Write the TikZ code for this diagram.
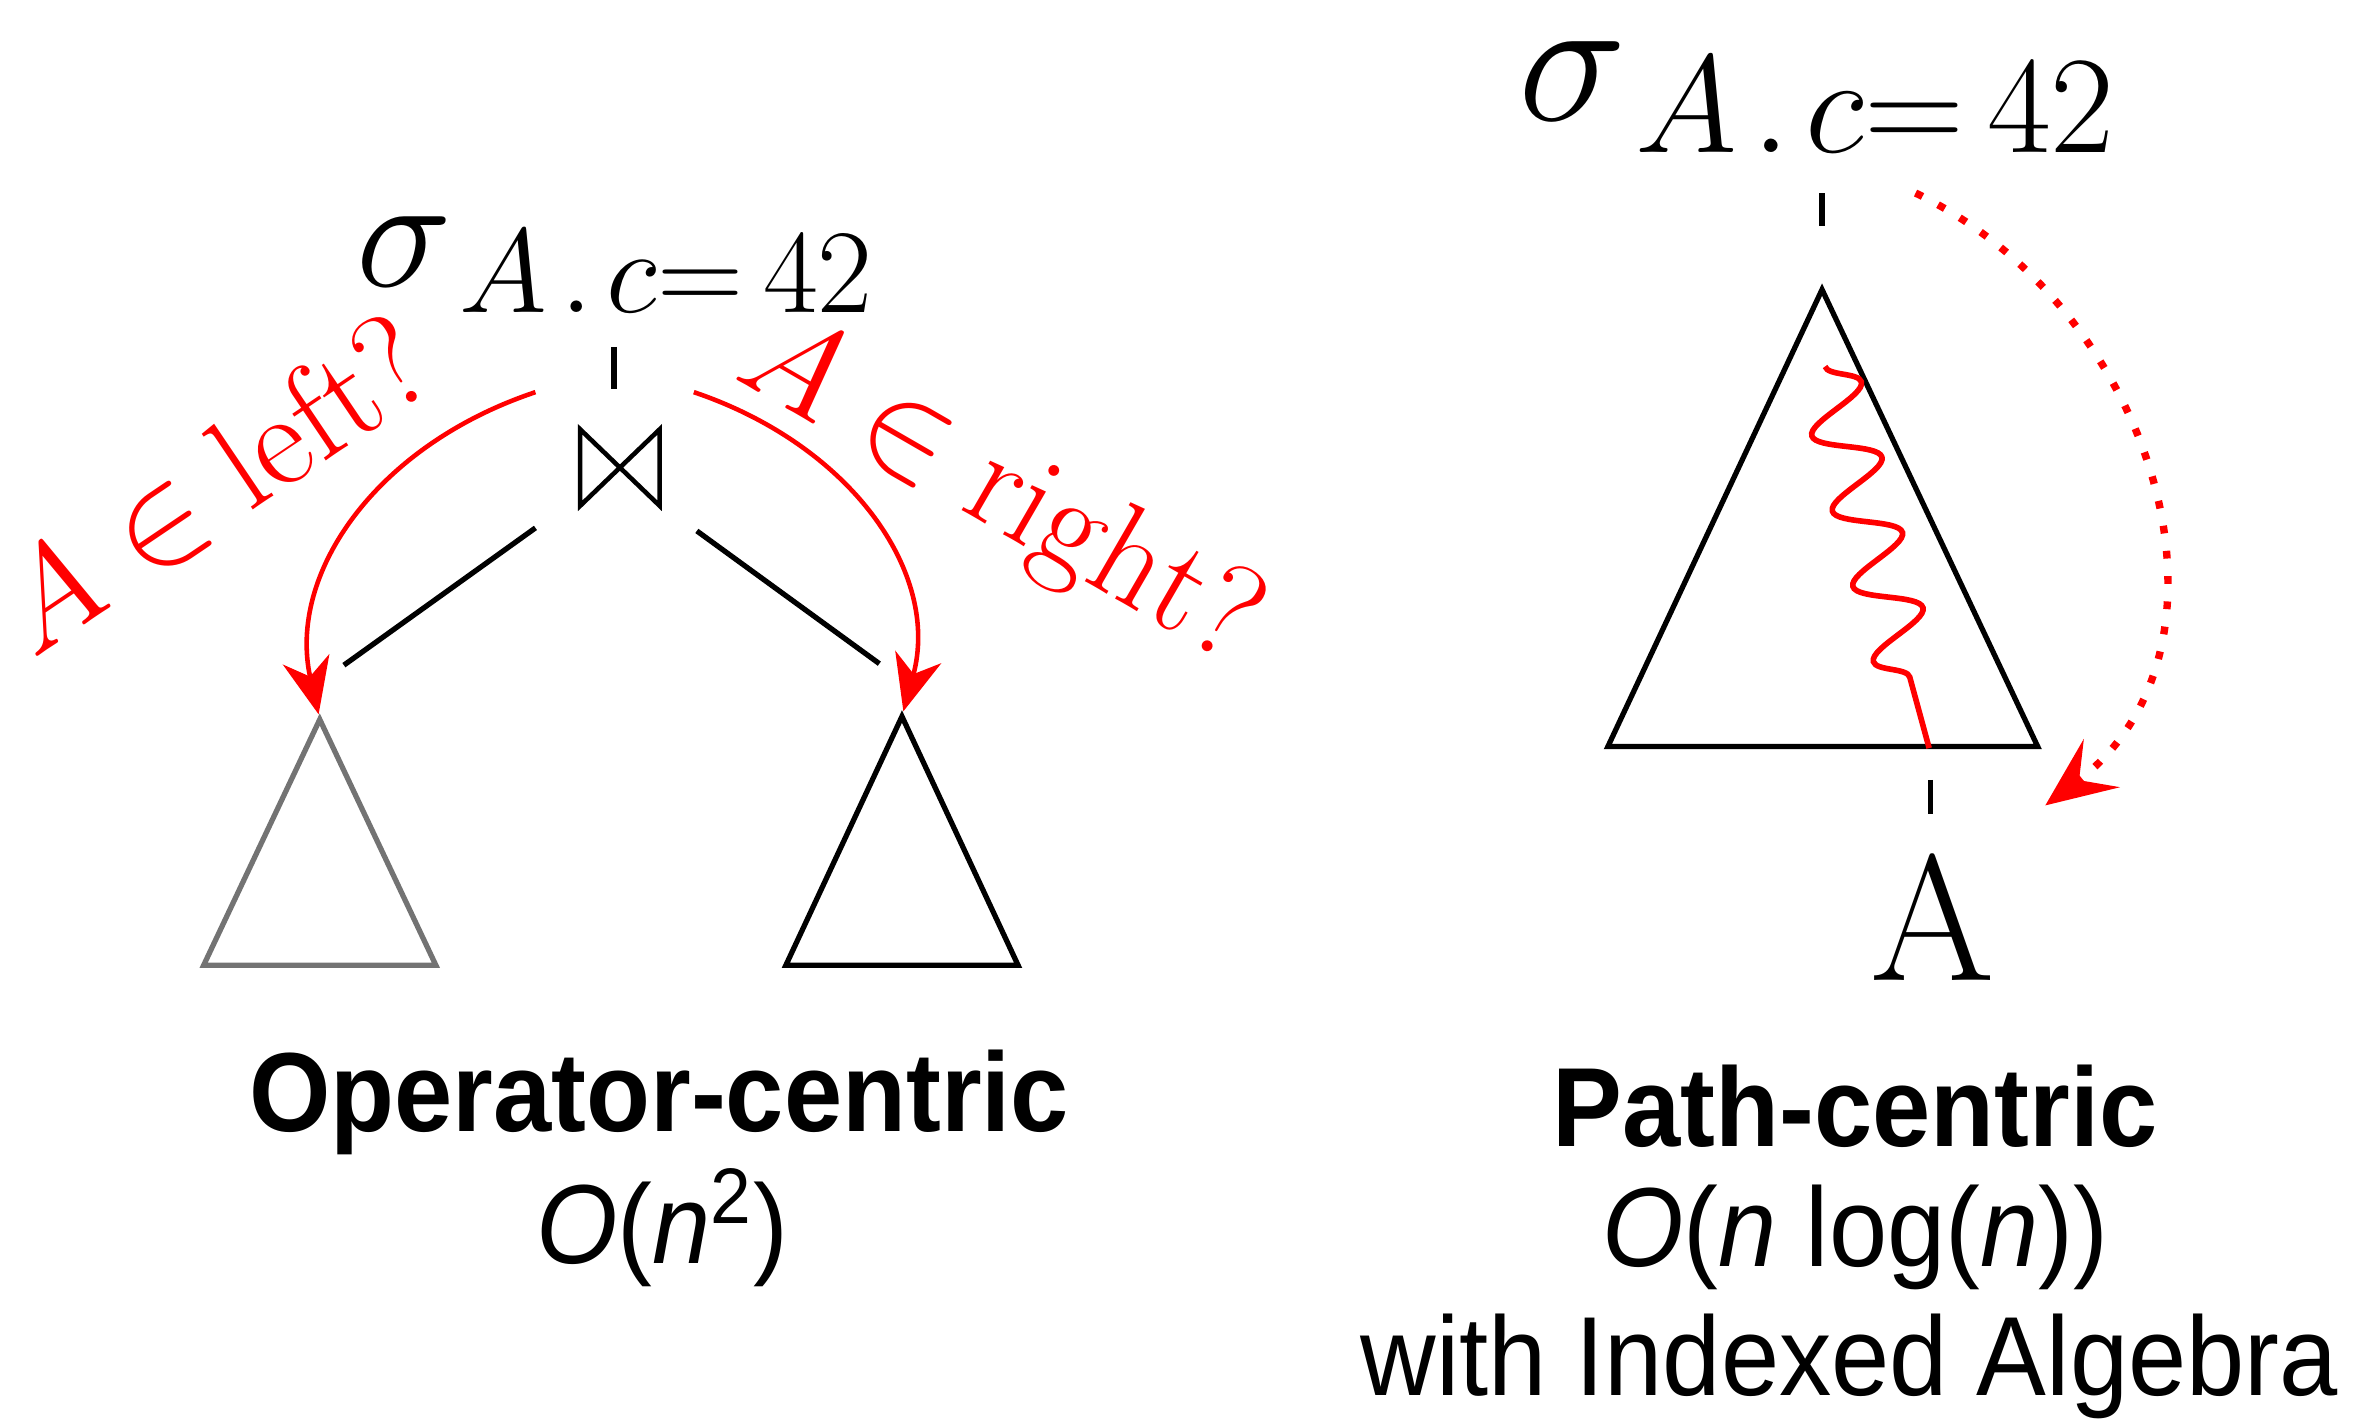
\documentclass[tikz,border=0pt]{standalone}
\usepackage{fix-cm}
\usepackage{fontspec}
\newfontfamily\capfont[FakeStretch=0.93]{Liberation Sans}
\usetikzlibrary{arrows.meta, decorations.pathmorphing}

\tikzset{
	edge/.style={line width=1.5pt},
	ask/.style={red, line width=1.3pt, shorten >=1.5pt, -{Stealth[length=16pt,width=13.5pt,inset=5pt]}},
	asktext/.style={red, anchor=base, inner sep=0pt, font=\fontsize{38}{40}\selectfont},
	caption/.style={anchor=base, inner sep=0pt, font=\capfont\fontsize{32}{36}\selectfont},
}

\begin{document}
\begin{tikzpicture}[x=0.01508cm, y=-0.01508cm]
	\useasboundingbox (0,0) rectangle (1568,942);
	% sigma with a larger subscript: \sel{main size}{sub size}
	\def\sel#1#2{\fontsize{#1}{#1}\selectfont$\sigma_{\mbox{\fontsize{#2}{#2}\selectfont$\mkern2mu A\mkern2mu.\mkern2mu c{=}\mkern3mu 42$}}$}
	% operator-centric
	\begin{scope}
		\node[anchor=base west, inner sep=0pt] (selL) at (236,190) {\sel{46}{34}};
		\node[minimum width=0.78cm, minimum height=0.75cm, inner sep=0pt] (join) at (411,310) {};
		\draw[line width=1.3pt] (join.north west) -- (join.south west) -- (join.north east) -- (join.south east) -- cycle;
		\coordinate (tickA) at (407,230); \coordinate (tickB) at (407,258);
		\coordinate (jl) at (355,350); \coordinate (lend) at (228,441);
		\coordinate (jr) at (462,352); \coordinate (rend) at (583,440);
		\coordinate (askl) at (355,260); \coordinate (askr) at (460,260);
		\coordinate (lt) at (212,477); \coordinate (rt) at (598,475);
		\draw[edge] (tickA) -- (tickB);
		\draw[edge] (jl) -- (lend);
		\draw[edge] (jr) -- (rend);
		\draw[edge, black!55] (lt) -- (289,640) -- (135,640) -- cycle;
		\draw[edge] (rt) -- (675,640) -- (521,640) -- cycle;
		\draw[ask] (askl) .. controls (250,295) and (190,380) .. (lt);
		\draw[ask] (askr) .. controls (564,295) and (624,380) .. (rt);
		\node[asktext, rotate=34] (inleft) at (157,346) {$A \in \mathrm{left?}$};
		\node[asktext, rotate=-30] (inright) at (651,346) {$A \in \mathrm{right?}$};
		\node[caption] (opcap) at (437,750) {\bfseries Operator-centric};
		\node[caption] (opcost) at (439,838) {\textit{O}(\textit{n}\textsuperscript{2})};
	\end{scope}
	% path-centric
	\begin{scope}
		\node[anchor=base west, inner sep=0pt] (selR) at (1006,80) {\sel{52}{39.5}};
		\coordinate (tickC) at (1208,128); \coordinate (tickD) at (1208,150);
		\coordinate (apex) at (1208,192);
		\coordinate (wtop) at (1210,243); \coordinate (wbot) at (1279,496);
		\coordinate (tickE) at (1280,517); \coordinate (tickF) at (1280,540);
		\coordinate (dots) at (1270,128); \coordinate (dote) at (1356,534);
		\draw[edge] (tickC) -- (tickD);
		\draw[edge] (apex) -- (1351,495) -- (1066,495) -- cycle;
		\draw[red, line width=1.6pt, decorate, decoration={snake, amplitude=0.31cm, segment length=0.78cm, post length=0.35cm}] (wtop) -- (wbot);
		\draw[edge] (tickE) -- (tickF);
		\node[anchor=base, inner sep=0pt, font=\fontsize{51}{56}\selectfont] (attr) at (1281,650) {A};
		\draw[red, line width=2.1pt, dash pattern=on 2.2pt off 5pt, -{Stealth[length=20pt,width=17pt,inset=8pt]}]
			(dots) .. controls (1430,205) and (1495,430) .. (dote);
		\node[caption] (pcap) at (1230,760) {\bfseries Path-centric};
		\node[caption] (pcost) at (1230,840) {\textit{O}(\textit{n} log(\textit{n}))};
		\node[caption] (pwith) at (1226,925) {with Indexed Algebra};
	\end{scope}
\end{tikzpicture}
\end{document}
